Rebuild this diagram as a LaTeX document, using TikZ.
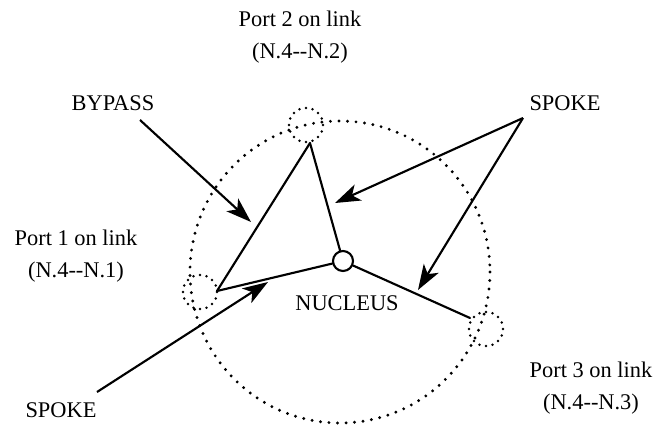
\documentclass[tikz,border=0pt]{standalone}
\usepackage{fontspec}
\setmainfont{Liberation Serif}
\usetikzlibrary{arrows.meta}
\tikzset{
  lbl/.style={font=\fontsize{16.8}{24.5}\selectfont, align=center, inner sep=0pt},
  edge/.style={line width=1.6pt, line cap=round},
  arr/.style={line width=1.6pt, -{Stealth[length=19pt, width=13pt, inset=5pt]}},
  bigdots/.style={line width=2.4pt, line cap=round, dash pattern=on 0pt off 6.4pt},
  smalldots/.style={line width=2.1pt, line cap=round, dash pattern=on 0pt off 5pt},
}
\begin{document}
\begin{tikzpicture}[x=0.75pt,y=-0.75pt]
\useasboundingbox (0,0) rectangle (657,433);
% big dotted link circle
\draw[bigdots] (340,272) ellipse [x radius=150, y radius=151];
% port circles
\draw[smalldots] (306,125) circle [radius=17];
\draw[smalldots] (200,292) circle [radius=17];
\draw[smalldots] (486,329) circle [radius=17];
% vertices
\coordinate (top) at (310,143);
\coordinate (left) at (217,291);
\coordinate (p3) at (470,318);
\node[circle, draw, fill=white, line width=1.6pt, minimum size=15pt, inner sep=0pt] (nuc) at (343,261) {};
% edges
\draw[edge] (left) -- (top);
\draw[edge] (top) -- (nuc);
\draw[edge] (left) -- (nuc);
\draw[edge] (nuc) -- (p3);
% labels
\node[lbl] (port2) at (300,37) {Port 2 on link\\(N.4-{}-N.2)};
\node[lbl] (port1) at (76,256) {Port 1 on link\\(N.4-{}-N.1)};
\node[lbl] (port3) at (591,388) {Port 3 on link\\(N.4-{}-N.3)};
\node[lbl] (bypass) at (113,103) {BYPASS};
\node[lbl] (spokeA) at (565,103) {SPOKE};
\node[lbl] (spokeB) at (61,410) {SPOKE};
\node[lbl] (nucleus) at (347,303) {NUCLEUS};
% arrows
\coordinate (bs) at (140,120);
\coordinate (bt) at (251,222);
\coordinate (ss) at (523,118);
\coordinate (st1) at (335,203);
\coordinate (st2) at (418,290);
\coordinate (sbs) at (97,392);
\coordinate (sbt) at (268,282);
\draw[arr] (bs) -- (bt);
\draw[arr] (ss) -- (st1);
\draw[arr] (ss) -- (st2);
\draw[arr] (sbs) -- (sbt);
\end{tikzpicture}
\end{document}
